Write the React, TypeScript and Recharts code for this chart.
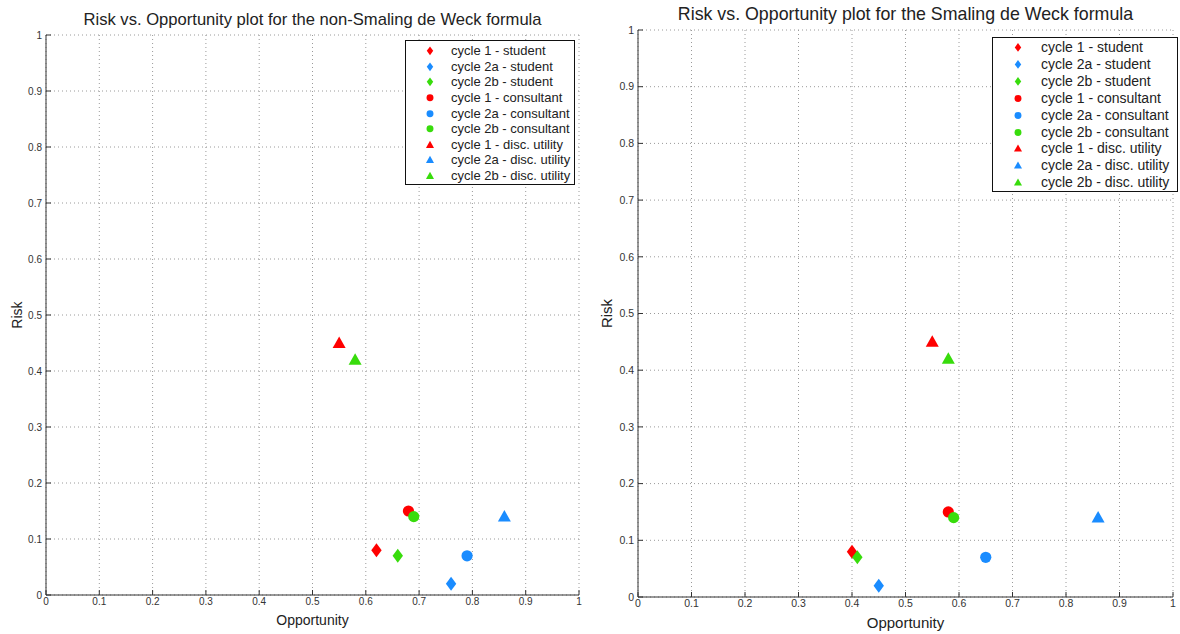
import React from 'react';
import { ScatterChart, Scatter, XAxis, YAxis, CartesianGrid, Legend } from 'recharts';

const seriesNames = [
  'cycle 1 - student',
  'cycle 2a - student',
  'cycle 2b - student',
  'cycle 1 - consultant',
  'cycle 2a - consultant',
  'cycle 2b - consultant',
  'cycle 1 - disc. utility',
  'cycle 2a - disc. utility',
  'cycle 2b - disc. utility',
];
const seriesColors = ['#ff0000', '#1a8cff', '#38dc0c', '#ff0000', '#1a8cff', '#38dc0c', '#ff0000', '#1a8cff', '#38dc0c'];
const seriesShapes = ['diamond', 'diamond', 'diamond', 'circle', 'circle', 'circle', 'triangle', 'triangle', 'triangle'];
const axisTicks = [0, 0.1, 0.2, 0.3, 0.4, 0.5, 0.6, 0.7, 0.8, 0.9, 1];

const leftOpportunity = [0.62, 0.76, 0.66, 0.68, 0.79, 0.69, 0.55, 0.86, 0.58];
const leftRisk = [0.08, 0.02, 0.07, 0.15, 0.07, 0.14, 0.45, 0.14, 0.42];
const rightOpportunity = [0.4, 0.45, 0.41, 0.58, 0.65, 0.59, 0.55, 0.86, 0.58];
const rightRisk = [0.08, 0.02, 0.07, 0.15, 0.07, 0.14, 0.45, 0.14, 0.42];

const FONT = '"Liberation Sans", Arial, Helvetica, sans-serif';

function Marker({ shape, cx, cy, color, s }: { shape: string; cx: number; cy: number; color: string; s: number }) {
  if (shape === 'diamond') {
    const w = 5.2 * s;
    const h = 7 * s;
    return <polygon points={`${cx},${cy - h} ${cx + w},${cy} ${cx},${cy + h} ${cx - w},${cy}`} fill={color} />;
  }
  if (shape === 'circle') {
    return <circle cx={cx} cy={cy} r={5.6 * s} fill={color} />;
  }
  const w = 6.5 * s;
  return <polygon points={`${cx},${cy - 6.5 * s} ${cx + w},${cy + 5 * s} ${cx - w},${cy + 5 * s}`} fill={color} />;
}

type PanelProps = {
  x: number;
  width: number;
  title: string;
  opp: number[];
  risk: number[];
  plotLeft: number;
  plotRight: number;
  plotTop: number;
  plotBottom: number;
  titleSize: number;
  titleY: number;
  labelSize: number;
  xLabelY: number;
  yLabelX: number;
  tickFont: number;
  legend: { left: number; top: number; width: number; height: number; font: number; row: number; markerX: number; textX: number; firstRow: number };
};

function Panel(p: PanelProps) {
  const H = 634;
  const yAxisW = 40;
  const xAxisH = 30;
  const cx = (p.plotLeft + p.plotRight) / 2;
  const cy = (p.plotTop + p.plotBottom) / 2;
  const tickStyle = { fontSize: p.tickFont, fill: '#333', fontFamily: FONT };
  const lg = p.legend;
  return (
    <div style={{ position: 'absolute', left: p.x, top: 0, width: p.width, height: H, fontFamily: FONT }}>
      <ScatterChart
        width={p.width}
        height={H}
        margin={{ top: p.plotTop, right: p.width - p.plotRight, bottom: H - p.plotBottom - xAxisH, left: p.plotLeft - yAxisW }}
      >
        <CartesianGrid stroke="#9a9a9a" strokeDasharray="1 3" />
        <XAxis
          type="number"
          dataKey="x"
          domain={[0, 1]}
          ticks={axisTicks}
          interval={0}
          height={xAxisH}
          tickSize={-5}
          tickMargin={8}
          stroke="#333"
          tick={tickStyle}
          allowDataOverflow
        />
        <YAxis
          type="number"
          dataKey="y"
          domain={[0, 1]}
          ticks={axisTicks}
          interval={0}
          width={yAxisW}
          tickSize={-5}
          tickMargin={9}
          stroke="#333"
          tick={tickStyle}
          allowDataOverflow
        />
        {seriesNames.map((name, i) => (
          <Scatter
            key={name}
            name={name}
            data={[{ x: p.opp[i], y: p.risk[i] }]}
            fill={seriesColors[i]}
            isAnimationActive={false}
            shape={(props: any) => <Marker shape={seriesShapes[i]} cx={props.cx} cy={props.cy} color={seriesColors[i]} s={1} />}
          />
        ))}
        <Legend
          layout="horizontal"
          verticalAlign="middle"
          align="center"
          wrapperStyle={{ position: 'absolute', left: lg.left, top: lg.top, width: lg.width, height: lg.height, margin: 0, padding: 0 }}
          content={() => (
            <div
              style={{
                position: 'relative',
                width: lg.width,
                height: lg.height,
                boxSizing: 'border-box',
                border: '1.5px solid #111',
                background: '#fff',
                fontFamily: FONT,
              }}
            >
              {seriesNames.map((name, i) => (
                <div key={name} style={{ position: 'absolute', left: 0, top: lg.firstRow + i * lg.row - lg.row / 2, height: lg.row, width: lg.width }}>
                  <svg width={16} height={lg.row} style={{ position: 'absolute', left: lg.markerX - 8, top: 0 }}>
                    <Marker shape={seriesShapes[i]} cx={8} cy={lg.row / 2} color={seriesColors[i]} s={0.62} />
                  </svg>
                  <span
                    style={{
                      position: 'absolute',
                      left: lg.textX,
                      top: 0,
                      lineHeight: `${lg.row}px`,
                      fontSize: lg.font,
                      color: '#222',
                      whiteSpace: 'nowrap',
                    }}
                  >
                    {name}
                  </span>
                </div>
              ))}
            </div>
          )}
        />
      </ScatterChart>
      <div
        style={{
          position: 'absolute',
          left: cx - 300,
          width: 600,
          top: p.titleY - p.titleSize / 2,
          textAlign: 'center',
          fontSize: p.titleSize,
          lineHeight: 1,
          color: '#222',
          whiteSpace: 'nowrap',
        }}
      >
        {p.title}
      </div>
      <div
        style={{
          position: 'absolute',
          left: cx - 100,
          width: 200,
          top: p.xLabelY - p.labelSize / 2,
          textAlign: 'center',
          fontSize: p.labelSize,
          lineHeight: 1,
          color: '#222',
        }}
      >
        Opportunity
      </div>
      <div
        style={{
          position: 'absolute',
          left: p.yLabelX - 50,
          width: 100,
          top: cy - p.labelSize / 2,
          textAlign: 'center',
          fontSize: p.labelSize,
          lineHeight: 1,
          color: '#222',
          transform: 'rotate(-90deg)',
        }}
      >
        Risk
      </div>
    </div>
  );
}

export default function App() {
  return (
    <div style={{ position: 'absolute', left: 0, top: 0, width: 1180, height: 634, background: '#fff', overflow: 'hidden' }}>
      <Panel
        x={0}
        width={590}
        title="Risk vs. Opportunity plot for the non-Smaling de Weck formula"
        opp={leftOpportunity}
        risk={leftRisk}
        plotLeft={46}
        plotRight={579}
        plotTop={35}
        plotBottom={595}
        titleSize={16.6}
        titleY={20}
        labelSize={14}
        xLabelY={620}
        yLabelX={17}
        tickFont={10}
        legend={{ left: 405, top: 40, width: 170, height: 145, font: 13, row: 15.6, markerX: 24, textX: 45, firstRow: 10 }}
      />
      <Panel
        x={590}
        width={590}
        title="Risk vs. Opportunity plot for the Smaling de Weck formula"
        opp={rightOpportunity}
        risk={rightRisk}
        plotLeft={48}
        plotRight={583}
        plotTop={30}
        plotBottom={597}
        titleSize={17.8}
        titleY={15}
        labelSize={15}
        xLabelY={622}
        yLabelX={16}
        tickFont={10.5}
        legend={{ left: 402, top: 37, width: 186, height: 155, font: 14, row: 16.9, markerX: 25, textX: 48, firstRow: 9.5 }}
      />
    </div>
  );
}
